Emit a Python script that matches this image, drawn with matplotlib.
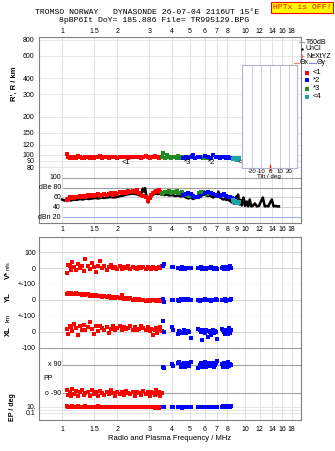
import matplotlib
matplotlib.use('Agg')
import matplotlib.pyplot as plt
from matplotlib.ticker import NullLocator
from matplotlib.patches import Rectangle

# ---------------- data ----------------
freq_ticks = [1, 1.5, 2, 3, 4, 5, 6, 7, 8, 10, 12, 14, 16, 18]
freq_ticks_mid = [1, 1.5, 2, 3, 4, 5, 6, 7, 8, 9, 10, 12, 14, 16, 18]
height_ticks = [800, 600, 400, 300, 200, 150, 120, 100, 90, 80]
tilt_ticks = [-20, -10, 0, 10, 20]
tilt_x = [0.0]

# mode <1 (red): echoes with full parameter set
red_f = [1.06, 1.08, 1.10, 1.12, 1.14, 1.16, 1.19, 1.22, 1.25, 1.28,
         1.31, 1.34, 1.38, 1.42, 1.46, 1.50, 1.54, 1.58, 1.62, 1.66,
         1.70, 1.75, 1.80, 1.85, 1.90, 1.95, 2.00, 2.06, 2.12, 2.18,
         2.24, 2.30, 2.36, 2.43, 2.50, 2.57, 2.64, 2.71, 2.78, 2.86,
         2.94, 3.02, 3.08, 3.14, 3.20, 3.26, 3.32, 3.38, 3.44, 3.50]
red_h = [101, 97, 95, 96, 94, 97, 95, 98, 96, 95,
         94, 96, 97, 95, 96, 95, 97, 96, 99, 95,
         96, 97, 95, 96, 97, 96, 95, 96, 97, 96,
         96, 95, 97, 96, 96, 97, 96, 95, 96, 98,
         96, 95, 97, 96, 99, 97, 96, 95, 96, 97]
red_a = [55, 57, 60, 58, 61, 59, 62, 60, 63, 61,
         64, 62, 65, 63, 66, 64, 65, 67, 64, 66,
         68, 65, 67, 69, 66, 70, 68, 71, 69, 72,
         70, 73, 71, 74, 72, 75, 70, 66, 63, 60,
         52, 58, 66, 70, 72, 74, 73, 75, 72, 70]
red_v = [-30, 20, 10, -15, 40, 5, -10, 25, 0, 15,
         -20, 55, 10, -5, 30, 5, -25, 15, 45, 0,
         10, -10, 5, 20, 0, 8, -5, 12, -8, 5,
         0, 10, -5, 8, 2, -3, 6, 0, 4, -6,
         8, 2, -4, 5, 0, -8, 3, 6, -2, 10]
red_yl = [40, 45, 38, 42, 36, 40, 44, 35, 38, 33,
          40, 30, 36, 28, 32, 25, 30, 22, 27, 20,
          24, 18, 22, 15, 18, 12, 16, 10, 30, 8,
          12, 5, 10, 2, 8, 0, 5, -3, 2, -5,
          0, -8, -2, 0, 3, -4, 0, 2, -6, -2]
red_xl = [20, -10, 40, 30, 5, 50, 25, -20, 35, 10,
          45, 15, 30, 60, 20, -15, 40, 5, 35, 25,
          10, 30, -5, 20, 40, 15, 25, 35, 10, 30,
          20, 25, 40, 15, 30, 10, 20, 35, 25, 15,
          30, 5, 20, -20, 10, 25, -5, 15, 30, 5]
red_pp = [-70, -100, -80, -110, -65, -95, -75, -105, -85, -70,
          -100, -90, -80, -110, -70, -95, -85, -105, -75, -90,
          -100, -80, -95, -70, -90, -105, -85, -95, -80, -100,
          -75, -90, -95, -85, -105, -80, -90, -100, -75, -95,
          -85, -110, -80, -90, -100, -70, -95, -85, -105, -90]
red_ep = [12, 10, 9, 11, 13, 10, 8, 12, 10, 11,
          9, 12, 10, 8, 11, 10, 9, 12, 10, 8,
          9, 7, 8, 10, 7, 8, 6, 9, 7, 8,
          6, 7, 9, 6, 8, 7, 6, 8, 7, 9,
          6, 8, 7, 6, 5, 7, 6, 5, 8, 6]

# mode *3 (green): height + amplitude
green_f = [3.50, 3.58, 3.66, 3.75, 3.84, 3.93, 4.02, 4.12, 4.22, 4.32,
           4.42, 4.52, 4.65, 4.80, 4.95, 5.10, 5.60, 5.75, 5.90, 6.05, 6.20]
green_h = [96, 104, 95, 100, 96, 95, 97, 96, 94, 98,
           95, 96, 97, 95, 96, 98, 96, 97, 95, 96, 95]
green_a = [68, 70, 72, 71, 73, 70, 72, 71, 73, 70,
           69, 71, 68, 66, 64, 65, 70, 72, 71, 69, 67]

# mode *2 (blue): height + amplitude
blue_hf = [4.60, 4.75, 4.90, 5.05, 5.20, 5.35, 5.50, 5.65, 6.00, 6.30,
           6.50, 6.70, 6.90, 7.10, 7.30, 7.50, 7.70, 7.90, 8.10, 8.30, 8.50, 8.70]
blue_h = [95, 96, 94, 97, 100, 95, 96, 97, 99, 96,
          95, 100, 97, 96, 95, 96, 97, 95, 96, 95, 94, 95]
blue_ha = [66, 68, 70, 67, 64, 62, 60, 63, 70, 72,
           70, 68, 66, 64, 63, 65, 67, 64, 62, 60, 58, 57]

# mode *2 (blue): velocity / position / polarisation
blue_vf = [3.56, 3.60, 3.98, 4.05, 4.30, 4.38, 4.46, 4.54, 4.62, 4.70,
           4.78, 4.86, 4.95, 5.05, 5.55, 5.65, 5.75, 5.85, 5.95, 6.05,
           6.15, 6.25, 6.35, 6.45, 6.55, 6.65, 6.75, 6.85, 6.95, 7.05,
           7.50, 7.60, 7.70, 7.80, 7.90, 8.00, 8.10, 8.20, 8.30, 8.40]
blue_v = [15, 25, 5, 8, 2, 0, -3, 4, 0, -5,
          2, 0, 3, -2, 0, -2, 4, -6, 0, 2,
          -4, 0, 3, -2, 5, 0, -3, 2, 0, -5,
          0, 6, -3, 2, 8, 0, -4, 3, 10, 0]
blue_yl = [5, -10, 0, 2, 0, -5, 5, 2, 0, 8,
           -3, 5, 0, -2, 3, -5, 0, 2, -3, 5,
           0, -2, 3, 0, -5, 2, 0, -3, 4, 0,
           2, -3, 0, 5, -8, 0, 3, -2, 0, 4]
blue_xl = [70, 0, 30, 10, -10, 5, 0, -5, 10, 0,
           -5, 5, 0, -40, 20, 10, 0, -50, 15, -5,
           10, -30, 5, 0, -20, 10, -5, 5, 0, -45,
           20, 10, 0, -10, 15, 5, -15, 25, -5, 10]
blue_pp = [80, 70, 95, 85, 100, 110, 80, 95, 105, 75,
           90, 100, 85, 110, 70, 90, 105, 80, 95, 110,
           75, 90, 100, 85, 95, 105, 80, 90, 100, 115,
           95, 80, 105, 90, 100, 75, 110, 85, 95, 90]
blue_ep = [6, 8, 7, 9, 6, 8, 7, 5, 8, 6,
           7, 9, 6, 8, 7, 9, 8, 10, 7, 9,
           8, 10, 9, 8, 10, 9, 11, 8, 10, 9,
           10, 12, 9, 11, 10, 12, 11, 13, 10, 12]

# mode <4 (teal)
teal_f = [8.55, 8.65, 8.75, 8.85, 8.95, 9.05, 9.15, 9.30]
teal_h = [93, 94, 95, 93, 94, 92, 93, 94]
teal_a = [55, 53, 50, 52, 49, 51, 48, 50]

# black amplitude trace
blk_f = [1.00, 1.03, 1.06, 1.09, 1.12, 1.16, 1.20, 1.25, 1.30, 1.35,
         1.40, 1.46, 1.52, 1.58, 1.64, 1.70, 1.77, 1.84, 1.92, 2.00,
         2.08, 2.16, 2.25, 2.34, 2.43, 2.52, 2.60, 2.66, 2.72, 2.76,
         2.80, 2.84, 2.88, 2.92, 2.96, 3.00, 3.04, 3.10, 3.18, 3.26,
         3.34, 3.42, 3.52, 3.62, 3.74, 3.86, 4.00, 4.15, 4.30, 4.45,
         4.60, 4.75, 4.90, 5.05, 5.20, 5.35, 5.50, 5.65, 5.80, 5.95,
         6.10, 6.25, 6.40, 6.55, 6.70, 6.85, 7.00, 7.15, 7.30, 7.45,
         7.60, 7.75, 7.90, 8.05, 8.20, 8.35, 8.50, 8.65, 8.80, 8.95,
         9.05, 9.15, 9.30, 9.45, 9.60, 9.80, 10.0, 10.2, 10.4, 10.6,
         10.8, 11.0, 11.3, 11.6, 11.9, 12.2, 12.5, 12.8, 13.1, 13.4,
         13.7, 14.0, 14.3, 14.6, 15.0, 15.3]
blk_a = [56, 54, 53, 55, 54, 56, 55, 57, 56, 58,
         57, 58, 59, 58, 60, 59, 60, 61, 60, 61,
         63, 64, 66, 67, 68, 67, 66, 64, 70, 78,
         72, 79, 66, 60, 50, 62, 58, 64, 67, 68,
         67, 68, 66, 65, 66, 64, 65, 63, 64, 62,
         63, 60, 58, 60, 57, 59, 60, 62, 64, 66,
         65, 63, 64, 62, 60, 62, 64, 72, 60, 58,
         56, 57, 55, 56, 54, 52, 50, 48, 47, 62,
         48, 66, 46, 55, 44, 60, 43, 52, 42, 56,
         42, 43, 48, 42, 43, 52, 60, 42, 43, 42,
         50, 56, 42, 43, 42, 42]

mode_labels = ['<1', '*3', '*2', '<4']
mode_label_f = [2.24, 4.86, 6.58, 9.59]
mode_label_h = [88, 88, 88, 88]

# ---------------- style ----------------
W, H = 335, 451
plt.rcParams['font.family'] = ['Liberation Sans', 'DejaVu Sans']
RED, BLUE, GREEN, TEAL = '#ff0000', '#0000ff', '#1f8c1f', '#1aa6a6'
FRAME, GRID, DARK = '#808080', '#dcdcdc', '#a0a0a0'
FX = (0.748, 20.2)
TS = 5
MS = 2.4

fig = plt.figure(figsize=(W / 100, H / 100), dpi=100)


def rect(x0, y0, x1, y1):
    return [x0 / W, 1 - y1 / H, (x1 - x0) / W, (y1 - y0) / H]


def base(ax, logy=False, spines=('left', 'right')):
    ax.set_xscale('log')
    ax.set_xlim(*FX)
    if logy:
        ax.set_yscale('log')
    for k, s in ax.spines.items():
        s.set_color(FRAME)
        s.set_linewidth(0.8)
        s.set_visible(k in spines)
    ax.xaxis.set_minor_locator(NullLocator())
    ax.yaxis.set_minor_locator(NullLocator())
    ax.set_xticks(freq_ticks)
    ax.set_xticklabels([])
    ax.tick_params(axis='both', which='both', length=0, labelsize=TS,
                   labelbottom=False, labeltop=False)
    ax.set_yticks([])
    for f in freq_ticks:
        ax.axvline(f, color=GRID, lw=0.6, zorder=0)


def flab(v):
    return '%g' % v


def pts(ax, x, y, c):
    ax.plot(x, y, 's', color=c, ms=MS, mew=0, zorder=3)


# ---- height panel ----
ax_h = fig.add_axes(rect(39, 37, 301, 172))
base(ax_h, logy=True, spines=('left', 'right', 'top'))
ax_h.set_ylim(73.5, 842)
ax_h.set_yticks(height_ticks)
ax_h.set_yticklabels([str(t) for t in height_ticks])
ax_h.tick_params(axis='y', length=0, pad=3.5, labelsize=TS)
for t in height_ticks:
    ax_h.axhline(t, color='#e2e2e2', lw=0.6, zorder=0)
ax_h.set_xticks(freq_ticks)
ax_h.set_xticklabels([flab(v) for v in freq_ticks])
ax_h.tick_params(axis='x', labeltop=True, pad=1.5)
pts(ax_h, red_f, red_h, RED)
pts(ax_h, green_f, green_h, GREEN)
pts(ax_h, blue_hf, blue_h, BLUE)
pts(ax_h, teal_f, teal_h, TEAL)
for lab, f, h in zip(mode_labels, mode_label_f, mode_label_h):
    ax_h.text(f, h, lab, fontsize=5.5, ha='center', va='center', zorder=4)

# ---- amplitude panel ----
ax_a = fig.add_axes(rect(39, 172, 301, 222.7))
base(ax_a, spines=('left', 'right', 'bottom'))
ax_a.patch.set_alpha(0)
ax_a.set_ylim(9.1, 111.5)
amp_lines = [100, 80, 60, 40, 20]
amp_cols = [DARK, DARK, '#cfcfcf', '#cfcfcf', '#a8aef0']
amp_labs = ['100', 'dBe 80', '60', '40', 'dBn 20']
for v, c, lab in zip(amp_lines, amp_cols, amp_labs):
    ax_a.hlines(v, 1.0, FX[1], color=c, lw=0.8, zorder=1)
    ax_a.text(0.985, v, lab, fontsize=TS, ha='right', va='center')
ax_a.plot(blk_f, blk_a, color='black', lw=1.8, zorder=2)
pts(ax_a, red_f, red_a, RED)
pts(ax_a, green_f, green_a, GREEN)
pts(ax_a, blue_hf, blue_ha, BLUE)
pts(ax_a, teal_f, teal_a, TEAL)
ax_a.set_xticks(freq_ticks_mid)
ax_a.set_xticklabels([flab(v) for v in freq_ticks_mid])
ax_a.tick_params(axis='x', labelbottom=True, pad=2.5)

# ---- tilt inset ----
ax_t = fig.add_axes(rect(241.7, 65, 296.7, 167.7))
ax_t.set_zorder(5)
ax_t.set_xlim(-30.8, 28.3)
ax_t.set_ylim(0, 1)
for s in ax_t.spines.values():
    s.set_color('#b4b4cc')
    s.set_linewidth(0.8)
ax_t.set_yticks([])
ax_t.set_xticks(tilt_ticks)
ax_t.set_xticklabels([str(t) for t in tilt_ticks])
ax_t.tick_params(axis='x', length=0, pad=0.8, labelsize=4.3)
for t in tilt_ticks:
    ax_t.axvline(t, color='#c4c4da', lw=0.6, zorder=0)
for t in tilt_x:
    ax_t.axvline(t, ymin=-0.022, ymax=0.03, color=RED, lw=0.9, clip_on=False)
ax_t.set_xlabel('Tilt / deg', fontsize=4.5, labelpad=0)

# ---- lower panels ----
ax_v = fig.add_axes(rect(39, 237, 301, 284))
base(ax_v, spines=('left', 'right', 'top'))
ax_v.set_ylim(-100, 195)
ax_yl = fig.add_axes(rect(39, 284, 301, 316))
base(ax_yl)
ax_yl.set_ylim(-100, 100)
ax_xl = fig.add_axes(rect(39, 316, 301, 356))
base(ax_xl)
ax_xl.set_ylim(-150, 100)
ax_pp = fig.add_axes(rect(39, 356, 301, 400))
base(ax_pp)
ax_pp.set_ylim(-132.7, 147)
ax_ep = fig.add_axes(rect(39, 400, 301, 419.5))
base(ax_ep, logy=True, spines=('left', 'right', 'bottom'))
ax_ep.set_ylim(5.4e-4, 1.7e3)

LIGHT = '#d6d6d6'
for ax, lines in [(ax_v, [(100, LIGHT), (0, LIGHT), (-100, DARK)]),
                  (ax_yl, [(0, LIGHT), (-100, DARK)]),
                  (ax_xl, [(0, LIGHT), (-100, DARK)])]:
    for v, c in lines:
        ax.axhline(v, color=c, lw=0.8, zorder=1)

ax_v.set_yticks([100, 0])
ax_v.set_yticklabels(['100', '0'])
ax_yl.set_yticks([100, 0])
ax_yl.set_yticklabels(['+-100', '0'])
ax_xl.set_yticks([100, 0, -100])
ax_xl.set_yticklabels(['+-100', '0', '-100'])
ax_ep.set_yticks([10, 0.1])
ax_ep.set_yticklabels(['10.', '0.1'])
for ax in (ax_v, ax_yl, ax_xl, ax_ep):
    ax.tick_params(axis='y', length=0, pad=2.2, labelsize=TS)

for v, lab in [(90, 'x 90'), (-90, 'o -90')]:
    ax_pp.hlines(v, 1.0, FX[1], color=DARK, lw=0.8, zorder=1)
    ax_pp.text(0.985, v, lab, fontsize=TS, ha='right', va='center')
for v in [10, 1, 0.1]:
    ax_ep.axhline(v, color='#e0e0e0', lw=0.6, zorder=1)

pts(ax_v, red_f, red_v, RED)
pts(ax_v, blue_vf, blue_v, BLUE)
pts(ax_yl, red_f, red_yl, RED)
pts(ax_yl, blue_vf, blue_yl, BLUE)
pts(ax_xl, red_f, red_xl, RED)
pts(ax_xl, blue_vf, blue_xl, BLUE)
pts(ax_pp, red_f, red_pp, RED)
pts(ax_pp, blue_vf, blue_pp, BLUE)
pts(ax_ep, red_f, red_ep, RED)
pts(ax_ep, blue_vf, blue_ep, BLUE)

ax_ep.set_xticks(freq_ticks)
ax_ep.set_xticklabels([flab(v) for v in freq_ticks])
ax_ep.tick_params(axis='x', labelbottom=True, pad=4.5)

# ---- overlay for titles, legends, axis labels ----
ov = fig.add_axes([0, 0, 1, 1])
ov.set_xlim(0, W)
ov.set_ylim(H, 0)
ov.axis('off')
ov.set_zorder(10)
ov.patch.set_alpha(0)

MONO = ['Liberation Mono', 'DejaVu Sans Mono']
ov.text(35, 12.5, 'TROMSO NORWAY   DYNASONDE 26-07-04 2116UT 15°E',
        fontsize=5.9, family=MONO, ha='left', va='center')
ov.text(59, 20.5, '8pBP6It DoY= 185.886 File= TR995129.BPG',
        fontsize=5.9, family=MONO, ha='left', va='center')
ov.add_patch(Rectangle((271, 2), 62, 11, facecolor='#ffff00',
                       edgecolor=RED, lw=0.8))
ov.text(302, 7.7, 'HPTx is OFF!', fontsize=5.9, family=MONO, color=RED,
        ha='center', va='center')

# legend
LF = 5
ov.plot([299, 304], [42, 42], color='#a0a0a0', lw=0.8)
ov.text(306, 42, 'T60dB', fontsize=LF, va='center')
ov.plot([302], [49], '.', color='black', ms=1.5)
ov.text(306, 49, 'UnCl', fontsize=LF, va='center')
ov.plot([301.5], [56], '+', color='#e07090', ms=3, mew=0.7)
ov.text(306, 56, 'NeXtYZ', fontsize=LF, va='center')
ov.plot([294, 299], [63, 63], color='#f08080', lw=0.8)
ov.text(299.5, 63, 'Θx', fontsize=LF, va='center')
ov.plot([309, 316], [63, 63], color='#8080f0', lw=0.8)
ov.text(316.5, 63, 'Θy', fontsize=LF, va='center')
for c, lab, y in [(RED, '<1', 72.7), (BLUE, '*2', 80.3),
                  (GREEN, '*3', 89), (TEAL, '<4', 96.7)]:
    ov.plot([306.7], [y], 's', color=c, ms=2.2, mew=0)
    ov.text(313, y, lab, fontsize=5.5, va='center')

# axis labels
ov.text(14, 84, "R', R / km", fontsize=5.5, weight='bold', rotation=90,
        ha='center', va='center')
ov.text(8, 274.5, 'V*', fontsize=5.5, weight='bold', rotation=90,
        ha='center', va='center')
ov.text(8, 266, 'm/s', fontsize=4, rotation=90, ha='center', va='center')
ov.text(8, 297, 'YL', fontsize=5.5, weight='bold', rotation=90,
        ha='center', va='center')
ov.text(8, 318, 'km', fontsize=4.5, rotation=90, ha='center', va='center')
ov.text(8, 331, 'XL', fontsize=5.5, weight='bold', rotation=90,
        ha='center', va='center')
ov.text(43, 379, 'PP', fontsize=TS, ha='left', va='center')
ov.text(12, 407, 'EP / deg', fontsize=5, weight='bold', rotation=90,
        ha='center', va='center')
ov.text(170, 439, 'Radio and Plasma Frequency / MHz', fontsize=5.5,
        ha='center', va='center')

fig.savefig('out.png', dpi=100)
